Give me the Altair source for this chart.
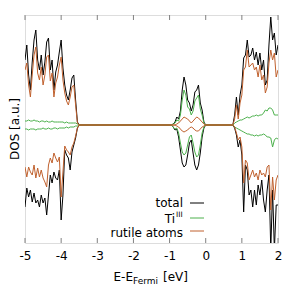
import altair as alt
import pandas as pd

# energies (eV relative to Fermi level)
E_vb = [-5.00,-4.95,-4.90,-4.85,-4.80,-4.75,-4.70,-4.65,-4.60,-4.55,-4.50,-4.45,-4.40,-4.35,-4.30,
        -4.25,-4.20,-4.15,-4.10,-4.05,-4.00,-3.95,-3.90,-3.85,-3.80,-3.75,-3.70,-3.65,-3.60,-3.55,-3.50]
E_gap = [-0.95,-0.90,-0.85,-0.80,-0.75,-0.70,-0.65,-0.60,-0.55,-0.50,-0.45,-0.40,-0.35,-0.30,-0.25,
         -0.20,-0.15,-0.10,-0.05,0.00]
E_cb = [0.75,0.80,0.85,0.90,0.95,1.00,1.05,1.10,1.15,1.20,1.25,1.30,1.35,1.40,1.45,1.50,1.55,1.60,
        1.65,1.70,1.75,1.80,1.85,1.90,1.95,2.00]

total_up = ([65,80,50,35,63,85,95,65,55,70,50,63,83,87,55,65,35,53,60,73,85,57,40,30,25,35,47,50,25,3,0]
            + [0,1,3,8,6,14,35,48,40,25,22,14,20,33,35,40,22,15,3,0]
            + [0,10,28,10,30,40,67,70,85,68,70,77,65,73,60,72,55,65,40,45,80,108,85,92,70,80])
total_dn = ([-82,-63,-72,-65,-77,-68,-78,-75,-82,-70,-78,-73,-90,-70,-50,-58,-47,-53,-55,-45,-95,-70,-25,-30,-33,-45,-27,-20,-13,-3,0]
            + [0,-2,-5,-4,-12,-25,-38,-42,-40,-30,-18,-15,-28,-40,-45,-40,-28,-12,-3,0]
            + [0,-3,-10,-22,-15,-30,-87,-40,-45,-70,-65,-82,-65,-80,-60,-70,-55,-75,-87,-65,-50,-125,-65,-125,-80,-80])
ti_up = ([4,4,5,4,4,5,4,4,3,4,4,3,4,3,3,4,3,3,3,3,3,3,2,3,2,2,2,2,2,1,0]
         + [0,1,2,5,4,10,25,35,30,18,16,10,14,24,27,30,16,10,2,0]
         + [0,2,3,4,5,5,6,7,8,7,8,9,9,10,9,10,10,12,15,14,17,17,15,10,10,10])
ti_dn = ([-4,-4,-5,-4,-4,-4,-5,-4,-4,-4,-3,-4,-4,-3,-4,-4,-3,-3,-4,-3,-3,-3,-3,-2,-3,-2,-2,-2,-1,-1,0]
         + [0,-2,-4,-3,-8,-18,-27,-30,-28,-20,-12,-10,-18,-27,-32,-30,-20,-8,-2,0]
         + [0,-2,-3,-4,-5,-6,-7,-8,-9,-9,-10,-10,-11,-10,-11,-10,-10,-9,-10,-12,-12,-13,-22,-15,-13,-14])
rut_up = ([55,62,40,28,50,70,78,52,45,58,40,50,68,70,44,52,28,42,48,60,68,45,32,24,20,28,38,40,20,2,0]
          + [0,0,0,1,2,4,6,8,7,6,4,2,4,6,8,7,5,3,1,0]
          + [0,6,20,6,22,30,55,58,75,58,60,62,55,58,48,60,45,50,32,38,62,75,65,72,48,55])
rut_dn = ([-42,-52,-42,-47,-50,-40,-53,-43,-52,-45,-53,-57,-62,-40,-33,-38,-28,-33,-37,-32,-72,-47,-21,-25,-27,-30,-22,-18,-11,-3,0]
          + [0,0,0,-1,-2,-4,-6,-7,-6,-5,-3,-2,-3,-5,-6,-6,-4,-2,-1,0]
          + [0,-2,-8,-15,-12,-22,-58,-35,-38,-55,-50,-45,-52,-48,-55,-45,-50,-48,-52,-42,-40,-85,-52,-75,-55,-50])

x_ticks = [-5, -4, -3, -2, -1, 0, 1, 2]
series_names = ["total", "TiIII", "rutile atoms"]
series_colors = ["#000000", "#4cb04c", "#c0612e"]

E_all = E_vb + E_gap + E_cb
rows = []
for name, up, dn in [("total", total_up, total_dn), ("TiIII", ti_up, ti_dn), ("rutile atoms", rut_up, rut_dn)]:
    for e, v in zip(E_all, up):
        rows.append({"E": e, "v": v, "series": name, "spin": "up"})
    for e, v in zip(E_all, dn):
        rows.append({"E": e, "v": v, "series": name, "spin": "down"})
df = pd.DataFrame(rows)

xs = alt.Scale(domain=[-5, 2], nice=False, zero=False)
ys = alt.Scale(domain=[-118, 110], nice=False, zero=False)
FONT = "DejaVu Sans"

xax = alt.Axis(values=x_ticks, title=None, ticks=False, domain=False, grid=False,
               labelFontSize=12, labelColor="black", labelPadding=7, labelFlush=False,
               labelExpr="'' + datum.value", labelFont=FONT)

layers = []
for name, col in zip(series_names, series_colors):
    layers.append(
        alt.Chart(df[df.series == name]).mark_line(clip=True, strokeWidth=1, color=col).encode(
            x=alt.X("E:Q", scale=xs, axis=xax),
            y=alt.Y("v:Q", scale=ys, axis=None),
            detail="spin:N",
        )
    )

tick_df = pd.DataFrame({"t": x_ticks})
tick_color = "#808080"
ticks_bottom = alt.Chart(tick_df).mark_rule(color=tick_color, strokeWidth=1).encode(
    x=alt.X("t:Q", scale=xs, axis=xax), y=alt.value(228), y2=alt.value(223))
ticks_top = alt.Chart(tick_df).mark_rule(color=tick_color, strokeWidth=1).encode(
    x=alt.X("t:Q", scale=xs, axis=xax), y=alt.value(0), y2=alt.value(5))

one = pd.DataFrame({"d": [0]})

def txt(text, x, y, size=12, align="left", baseline="middle", angle=0):
    return alt.Chart(one).mark_text(text=text, font=FONT, fontSize=size, align=align,
                                    baseline=baseline, angle=angle, color="black").encode(
        x=alt.value(x), y=alt.value(y))

def seg(x1, x2, y, col):
    return alt.Chart(one).mark_rule(color=col, strokeWidth=1).encode(
        x=alt.value(x1), x2=alt.value(x2), y=alt.value(y))

deco = [
    txt("DOS [a.u.]", -10, 114, angle=270, align="center"),
    txt("E-E", 108, 262, align="right"),
    txt("Fermi", 108, 266, size=9),
    txt("[eV]", 138, 262),
    txt("total", 158, 187.5, align="right"),
    seg(165, 179, 188, series_colors[0]),
    txt("Ti", 150, 204, align="right"),
    txt("III", 151, 199.5, size=7.5),
    seg(165, 179, 203, series_colors[1]),
    txt("rutile atoms", 158, 218, align="right"),
    seg(165, 179, 216, series_colors[2]),
]

chart = alt.layer(*layers, ticks_bottom, ticks_top, *deco).properties(
    width=253, height=228,
    autosize=alt.AutoSizeParams(type="none"),
    padding={"left": 17, "top": 7, "right": 14, "bottom": 49},
).configure_view(stroke="#808080", strokeWidth=1).configure(font=FONT)

chart.save("out.html", embed_options={"renderer": "svg", "actions": False})
